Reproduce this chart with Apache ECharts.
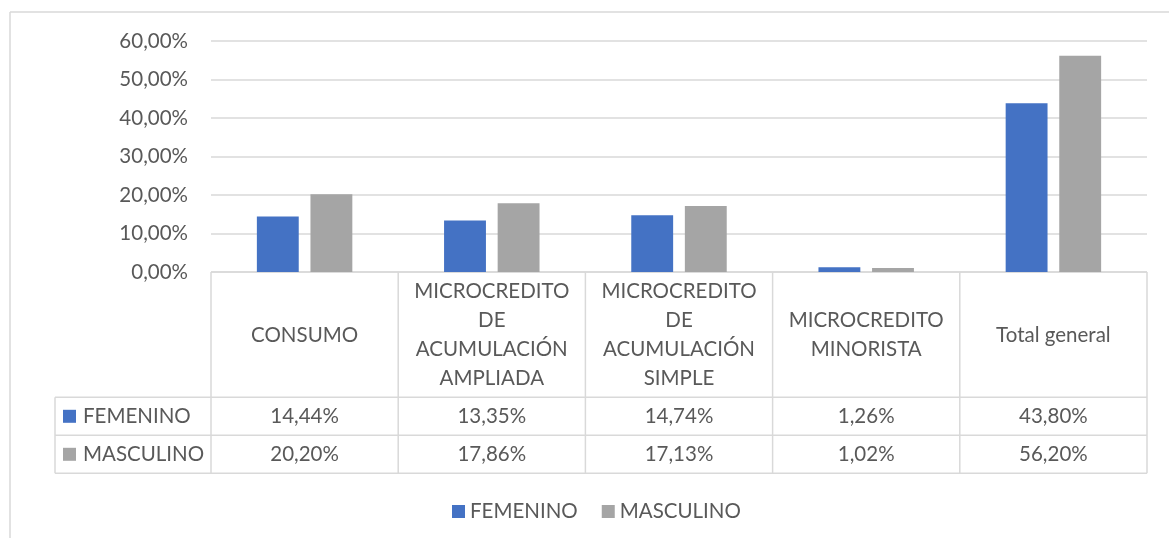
<!DOCTYPE html>
<html>
<head>
<meta charset="utf-8">
<script src="https://cdn.jsdelivr.net/npm/echarts@6/dist/echarts.min.js"></script>
<style>
  html, body { margin: 0; padding: 0; background: #fff; }
  #chart { width: 1169px; height: 538px; }
</style>
</head>
<body>
<div id="chart"></div>
<script>
// datos
var categories = ['CONSUMO', 'MICROCREDITO DE ACUMULACIÓN AMPLIADA', 'MICROCREDITO DE ACUMULACIÓN SIMPLE', 'MICROCREDITO MINORISTA', 'Total general'];
var femenino = [14.44, 13.35, 14.74, 1.26, 43.80];
var masculino = [20.20, 17.86, 17.13, 1.02, 56.20];
var seriesNames = ['FEMENINO', 'MASCULINO'];

var colors = ['#4472C4', '#A5A5A5'];
var textColor = '#595959';
var lineColor = '#D9D9D9';
var font = 'Lato';
var fs = 20.5;

// layout
var W = 1169, H = 538;
var gridLeft = 211, gridRight = 22, gridTop = 41, axisY = 272;
var tableLeft = 55, headerBottom = 397.3, rowH = 38;
var colW = (W - gridLeft - gridRight) / categories.length;

function pct(v) {
  return v.toFixed(2).replace('.', ',') + '%';
}

function wrap(s) {
  var words = s.split(' '), lines = [], cur = '';
  words.forEach(function (w) {
    if (cur && (cur + ' ' + w).length > 13) { lines.push(cur); cur = w; }
    else { cur = cur ? cur + ' ' + w : w; }
  });
  lines.push(cur);
  return lines.join('\n');
}

function line(x1, y1, x2, y2) {
  return { type: 'line', silent: true, shape: { x1: x1, y1: y1, x2: x2, y2: y2 },
    style: { stroke: lineColor, lineWidth: 1.5 } };
}

function buildTable() {
  var g = [];
  var right = W - gridRight;
  var tableBottom = headerBottom + rowH * 2;
  // marco
  g.push(line(10, 12, W, 12));
  g.push(line(10, 12, 10, H));
  // filas
  g.push(line(gridLeft, axisY, right, axisY));
  for (var r = 0; r <= 2; r++) {
    g.push(line(tableLeft, headerBottom + r * rowH, right, headerBottom + r * rowH));
  }
  // columnas
  g.push(line(tableLeft, headerBottom, tableLeft, tableBottom));
  for (var c = 0; c <= categories.length; c++) {
    g.push(line(gridLeft + c * colW, axisY, gridLeft + c * colW, tableBottom));
  }
  var rows = [femenino, masculino];
  rows.forEach(function (vals, r) {
    var cy = headerBottom + r * rowH + rowH / 2;
    g.push({ type: 'rect', silent: true, shape: { x: 63, y: cy - 6.5, width: 13, height: 13 },
      style: { fill: colors[r] } });
    g.push({ type: 'text', silent: true, x: 83, y: cy,
      style: { text: seriesNames[r], fill: textColor, font: fs + 'px "' + font + '"', verticalAlign: 'middle' } });
    vals.forEach(function (v, c) {
      g.push({ type: 'text', silent: true, x: gridLeft + c * colW + colW / 2, y: cy,
        style: { text: pct(v), fill: textColor, font: fs + 'px "' + font + '"', align: 'center', verticalAlign: 'middle' } });
    });
  });
  return g;
}

var chart = echarts.init(document.getElementById('chart'));
chart.setOption({
  animation: false,
  color: colors,
  textStyle: { fontFamily: font },
  grid: { left: gridLeft, right: gridRight, top: gridTop, bottom: H - axisY, containLabel: false },
  legend: {
    data: seriesNames,
    top: 496,
    left: 447,
    icon: 'rect',
    itemWidth: 13,
    itemHeight: 13,
    itemGap: 24,
    textStyle: { color: textColor, fontSize: fs, fontFamily: font }
  },
  xAxis: {
    type: 'category',
    data: categories,
    axisLine: { show: false },
    axisTick: { show: false },
    axisLabel: {
      interval: 0,
      margin: 63,
      verticalAlign: 'middle',
      lineHeight: 29.2,
      color: textColor,
      fontSize: fs,
      formatter: wrap
    }
  },
  yAxis: {
    type: 'value',
    min: 0,
    max: 60,
    interval: 10,
    axisLine: { show: false },
    axisTick: { show: false },
    splitLine: { lineStyle: { color: lineColor, width: 1.5 } },
    axisLabel: {
      margin: 23,
      color: textColor,
      fontSize: fs,
      formatter: function (v) { return pct(v); }
    }
  },
  series: [
    { name: seriesNames[0], type: 'bar', data: femenino, barGap: '28%', barCategoryGap: '49%' },
    { name: seriesNames[1], type: 'bar', data: masculino, barGap: '28%', barCategoryGap: '49%' }
  ],
  graphic: buildTable()
});
</script>
</body>
</html>
